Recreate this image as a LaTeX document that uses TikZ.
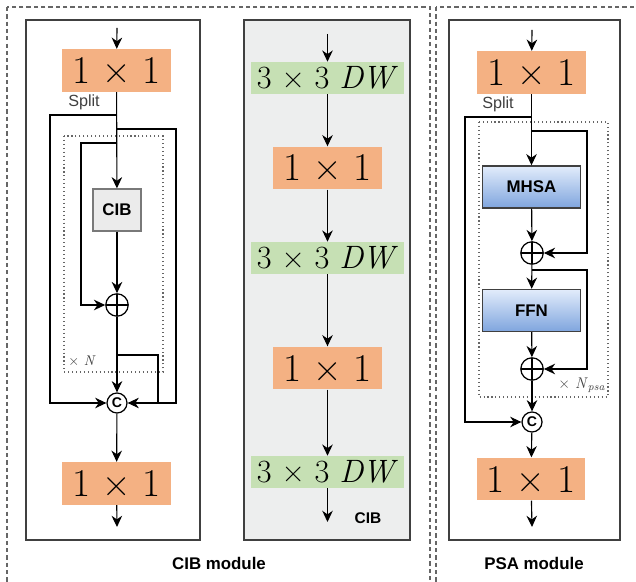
\documentclass[tikz,border=0pt]{standalone}
\usepackage{fontspec}
\setsansfont{Liberation Sans}
\usepackage{tikz}
\usetikzlibrary{arrows.meta, positioning, calc}
\definecolor{convorange}{HTML}{F4B183}
\definecolor{dwgreen}{HTML}{C6E0B4}
\definecolor{panelgray}{HTML}{EDEEEE}
\definecolor{framegray}{HTML}{404040}
\definecolor{cibgray}{HTML}{EBEBEB}
\definecolor{attnlight}{HTML}{E2ECFB}
\definecolor{attndark}{HTML}{7FA5DE}

\begin{document}
\begin{tikzpicture}[x=0.025cm, y=-0.025cm,
  arr/.style={-{Stealth[length=8pt, width=7.5pt]}, line width=0.8pt},
  link/.style={line width=0.8pt},
  outerdash/.style={draw=framegray!80, line width=1pt, dash pattern=on 3pt off 2.2pt},
  panel/.style={draw=framegray, line width=1.8pt},
  loopbox/.style={draw=framegray!80, line width=0.8pt, dotted},
  onebyone/.style={fill=convorange, minimum width=2.72cm, minimum height=1.07cm, inner sep=0pt, font=\fontsize{28}{28}\selectfont},
  dwconv/.style={fill=dwgreen, minimum width=3.83cm, minimum height=0.8cm, inner sep=0pt, font=\fontsize{23}{23}\selectfont},
  cibbox/.style={draw=framegray!70, fill=cibgray, line width=0.9pt, minimum width=1.2cm, minimum height=1.05cm, inner sep=0pt, font=\sffamily\bfseries\fontsize{12}{12}\selectfont},
  attnbox/.style={draw=framegray, line width=1pt, top color=attnlight, bottom color=attndark, minimum width=2.45cm, minimum height=1.05cm, inner sep=0pt, font=\sffamily\bfseries\fontsize{12}{12}\selectfont},
  sumnode/.style={circle, draw, line width=0.9pt, minimum size=0.56cm, inner sep=0pt, path picture={\draw[line width=0.9pt] (path picture bounding box.north) -- (path picture bounding box.south) (path picture bounding box.west) -- (path picture bounding box.east);}},
  catnode/.style={circle, draw, fill=white, line width=0.9pt, minimum size=0.5cm, inner sep=0pt, font=\sffamily\bfseries\fontsize{10}{10}\selectfont},
  tag/.style={font=\sffamily\fontsize{11.5}{11.5}\selectfont, text=framegray, inner sep=0pt},
  caption/.style={font=\sffamily\bfseries\fontsize{12}{12}\selectfont, inner sep=0pt}]

  \useasboundingbox (0,0) rectangle (636,582);
  \draw[outerdash] (7,7) rectangle (430,583);
  \draw[outerdash] (436,7) rectangle (650,583);

  \draw[panel, fill=white] (26,20) rectangle (200,540);
  \draw[panel, fill=panelgray] (244,20) rectangle (410,540);
  \draw[panel, fill=white] (449,20) rectangle (620,540);

  \draw[loopbox] (64,136) rectangle (163,372);
  \draw[loopbox] (479,122) rectangle (608,397);

  \node[onebyone] (cibin) at (116.5,70.5) {1 × 1};
  \node[cibbox] (cib) at (117,210) {CIB};
  \node[sumnode] (cibadd) at (117,305) {};
  \node[catnode] (cibcat) at (117,403) {C};
  \node[onebyone] (cibout) at (116.5,483.5) {1 × 1};
  \node[tag, anchor=base west] (cibsplit) at (68,107) {Split};
  \node[tag, anchor=west, font=\fontsize{10}{10}\selectfont] (cibrep) at (68,361) {× \textit{N}};
  \coordinate (cibtop) at (117,28);
  \coordinate (cibend) at (117,527);
  \coordinate (s1) at (117,115);
  \coordinate (s2) at (117,129);
  \coordinate (s3) at (117,143);
  \coordinate (s4) at (117,355);

  \draw[arr] (cibtop) -- (cibin);
  \draw[arr] (cibin) -- (cib);
  \draw[arr] (cib) -- (cibadd);
  \draw[arr] (cibadd) -- (cibcat);
  \draw[arr] (cibcat) -- (cibout);
  \draw[arr] (cibout) -- (cibend);
  \draw[arr] (s1) -- (50,115) |- (cibcat);
  \draw[arr] (s2) -- (176,129) |- (cibcat);
  \draw[arr] (s3) -- (81,143) |- (cibadd);
  \draw[link] (s4) -- (158,355) -- (158,403);

  \node[dwconv] (dw1) at (327.5,78) {3 × 3 \textit{DW}};
  \node[onebyone, below=1.3cm of dw1] (pw1) {1 × 1};
  \node[dwconv, below=1.3cm of pw1] (dw2) {3 × 3 \textit{DW}};
  \node[onebyone] (pw2) at (327.5,368) {1 × 1};
  \node[dwconv] (dw3) at (327.5,472) {3 × 3 \textit{DW}};
  \node[caption, font=\sffamily\bfseries\fontsize{11}{11}\selectfont] (cibname) at (368,518) {CIB};
  \coordinate (midtop) at (327.5,34);
  \coordinate (midend) at (327.5,522);

  \draw[arr] (midtop) -- (dw1);
  \draw[arr] (dw1) -- (pw1);
  \draw[arr] (pw1) -- (dw2);
  \draw[arr] (dw2) -- (pw2);
  \draw[arr] (pw2) -- (dw3);
  \draw[arr] (dw3) -- (midend);

  \node[onebyone] (psain) at (531.5,72.5) {1 × 1};
  \node[attnbox] (mhsa) at (531.5,187) {MHSA};
  \node[sumnode] (psaadd1) at (532,253) {};
  \node[attnbox] (ffn) at (531.5,310.5) {FFN};
  \node[sumnode] (psaadd2) at (532,369) {};
  \node[catnode] (psacat) at (532,422) {C};
  \node[onebyone] (psaout) at (531,479) {1 × 1};
  \node[tag, anchor=base west] (psasplit) at (482,109) {Split};
  \node[tag, anchor=west, font=\fontsize{11}{11}\selectfont] (psarep) at (558,385) {× \textit{N}\textsubscript{\textit{psa}}};
  \coordinate (psatop) at (532,30);
  \coordinate (psaend) at (532,527);
  \coordinate (s5) at (532,117);
  \coordinate (s6) at (532,131);
  \coordinate (s7) at (532,270);

  \draw[arr] (psatop) -- (psain);
  \draw[arr] (psain) -- (mhsa);
  \draw[arr] (mhsa) -- (psaadd1);
  \draw[arr] (psaadd1) -- (ffn);
  \draw[arr] (ffn) -- (psaadd2);
  \draw[arr] (psaadd2) -- (psacat);
  \draw[arr] (psacat) -- (psaout);
  \draw[arr] (psaout) -- (psaend);
  \draw[arr] (s5) -- (465,117) |- (psacat);
  \draw[arr] (s6) -- (587,131) |- (psaadd1);
  \draw[arr] (s7) -- (587,270) |- (psaadd2);

  \node[caption] (cibmod) at (219,563) {CIB module};
  \node[caption] (psamod) at (534,563) {PSA module};
\end{tikzpicture}
\end{document}
